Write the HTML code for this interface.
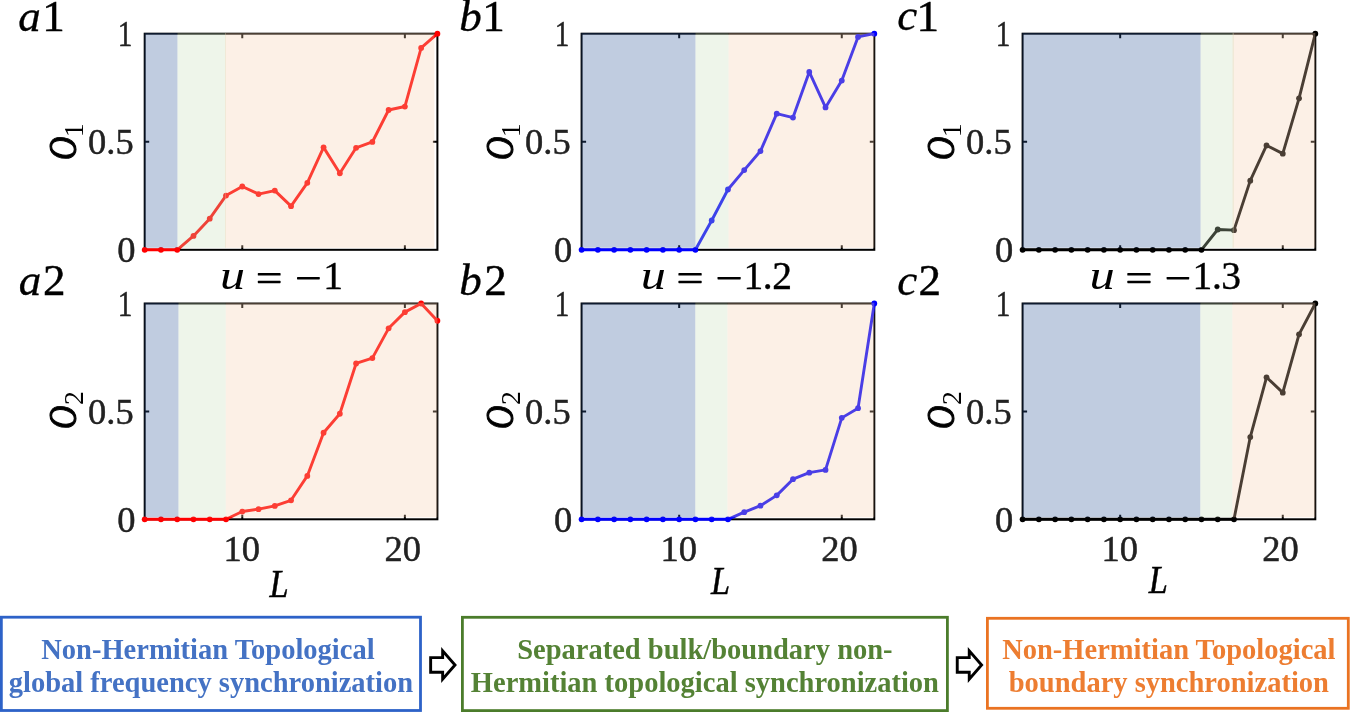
<!DOCTYPE html>
<html><head><meta charset="utf-8"><style>
html,body{margin:0;padding:0;background:#fff;}
body{width:1351px;height:712px;overflow:hidden;font-family:"Liberation Serif",serif;}
svg{display:block;will-change:transform;}
</style></head><body>
<svg width="1351" height="712" viewBox="0 0 1351 712" font-family="Liberation Serif">
<rect width="1351" height="712" fill="#fff"/>
<rect x="144.70" y="33.70" width="292.70" height="216.10" fill="none" stroke="#000" stroke-width="2"/>
<path d="M242.27 249.80V245.30M242.27 33.70V38.20M404.88 249.80V245.30M404.88 33.70V38.20M144.70 141.75H149.20M437.40 141.75H432.90" stroke="#000" stroke-width="2" fill="none"/>
<path d="M144.70 249.80 L160.96 249.80 L177.22 249.80 L193.48 235.97 L209.74 218.68 L226.01 195.56 L242.27 186.48 L258.53 194.05 L274.79 190.59 L291.05 206.15 L307.31 182.81 L323.57 147.37 L339.83 173.30 L356.09 147.80 L372.36 141.97 L388.62 109.98 L404.88 106.53 L421.14 47.96 L437.40 33.70" stroke="#ff0000" stroke-width="2.9" fill="none" stroke-linejoin="round"/>
<g fill="#ff0000"><circle cx="144.70" cy="249.80" r="2.9"/><circle cx="160.96" cy="249.80" r="2.9"/><circle cx="177.22" cy="249.80" r="2.9"/><circle cx="193.48" cy="235.97" r="2.9"/><circle cx="209.74" cy="218.68" r="2.9"/><circle cx="226.01" cy="195.56" r="2.9"/><circle cx="242.27" cy="186.48" r="2.9"/><circle cx="258.53" cy="194.05" r="2.9"/><circle cx="274.79" cy="190.59" r="2.9"/><circle cx="291.05" cy="206.15" r="2.9"/><circle cx="307.31" cy="182.81" r="2.9"/><circle cx="323.57" cy="147.37" r="2.9"/><circle cx="339.83" cy="173.30" r="2.9"/><circle cx="356.09" cy="147.80" r="2.9"/><circle cx="372.36" cy="141.97" r="2.9"/><circle cx="388.62" cy="109.98" r="2.9"/><circle cx="404.88" cy="106.53" r="2.9"/><circle cx="421.14" cy="47.96" r="2.9"/><circle cx="437.40" cy="33.70" r="2.9"/></g>
<rect x="144.40" y="32.90" width="33.10" height="214.90" fill="rgba(48,85,152,0.3)"/>
<rect x="177.50" y="32.90" width="48.50" height="214.90" fill="rgba(198,222,185,0.3)"/>
<rect x="225.00" y="32.90" width="209.40" height="214.90" fill="rgba(245,205,172,0.3)"/>
<rect x="144.70" y="303.50" width="292.70" height="215.80" fill="none" stroke="#000" stroke-width="2"/>
<path d="M242.27 519.30V514.80M242.27 303.50V308.00M404.88 519.30V514.80M404.88 303.50V308.00M144.70 411.40H149.20M437.40 411.40H432.90" stroke="#000" stroke-width="2" fill="none"/>
<path d="M144.70 519.30 L160.96 519.30 L177.22 519.30 L193.48 519.30 L209.74 519.30 L226.01 519.30 L242.27 511.53 L258.53 509.16 L274.79 505.92 L291.05 500.31 L307.31 475.92 L323.57 432.76 L339.83 413.77 L356.09 363.49 L372.36 358.10 L388.62 328.32 L404.88 312.13 L421.14 303.50 L437.40 320.76" stroke="#ff0000" stroke-width="2.9" fill="none" stroke-linejoin="round"/>
<g fill="#ff0000"><circle cx="144.70" cy="519.30" r="2.9"/><circle cx="160.96" cy="519.30" r="2.9"/><circle cx="177.22" cy="519.30" r="2.9"/><circle cx="193.48" cy="519.30" r="2.9"/><circle cx="209.74" cy="519.30" r="2.9"/><circle cx="226.01" cy="519.30" r="2.9"/><circle cx="242.27" cy="511.53" r="2.9"/><circle cx="258.53" cy="509.16" r="2.9"/><circle cx="274.79" cy="505.92" r="2.9"/><circle cx="291.05" cy="500.31" r="2.9"/><circle cx="307.31" cy="475.92" r="2.9"/><circle cx="323.57" cy="432.76" r="2.9"/><circle cx="339.83" cy="413.77" r="2.9"/><circle cx="356.09" cy="363.49" r="2.9"/><circle cx="372.36" cy="358.10" r="2.9"/><circle cx="388.62" cy="328.32" r="2.9"/><circle cx="404.88" cy="312.13" r="2.9"/><circle cx="421.14" cy="303.50" r="2.9"/><circle cx="437.40" cy="320.76" r="2.9"/></g>
<rect x="144.40" y="302.70" width="34.10" height="214.60" fill="rgba(48,85,152,0.3)"/>
<rect x="178.50" y="302.70" width="47.30" height="214.60" fill="rgba(198,222,185,0.3)"/>
<rect x="225.80" y="302.70" width="211.60" height="214.60" fill="rgba(245,205,172,0.3)"/>
<rect x="581.60" y="33.70" width="292.70" height="216.10" fill="none" stroke="#000" stroke-width="2"/>
<path d="M679.17 249.80V245.30M679.17 33.70V38.20M841.78 249.80V245.30M841.78 33.70V38.20M581.60 141.75H586.10M874.30 141.75H869.80" stroke="#000" stroke-width="2" fill="none"/>
<path d="M581.60 249.80 L597.86 249.80 L614.12 249.80 L630.38 249.80 L646.64 249.80 L662.91 249.80 L679.17 249.80 L695.43 249.80 L711.69 220.52 L727.95 189.51 L744.21 170.06 L760.47 151.04 L776.73 113.66 L792.99 117.55 L809.26 71.95 L825.52 107.39 L841.78 80.59 L858.04 36.94 L874.30 33.70" stroke="#0000ff" stroke-width="2.9" fill="none" stroke-linejoin="round"/>
<g fill="#0000ff"><circle cx="581.60" cy="249.80" r="2.9"/><circle cx="597.86" cy="249.80" r="2.9"/><circle cx="614.12" cy="249.80" r="2.9"/><circle cx="630.38" cy="249.80" r="2.9"/><circle cx="646.64" cy="249.80" r="2.9"/><circle cx="662.91" cy="249.80" r="2.9"/><circle cx="679.17" cy="249.80" r="2.9"/><circle cx="695.43" cy="249.80" r="2.9"/><circle cx="711.69" cy="220.52" r="2.9"/><circle cx="727.95" cy="189.51" r="2.9"/><circle cx="744.21" cy="170.06" r="2.9"/><circle cx="760.47" cy="151.04" r="2.9"/><circle cx="776.73" cy="113.66" r="2.9"/><circle cx="792.99" cy="117.55" r="2.9"/><circle cx="809.26" cy="71.95" r="2.9"/><circle cx="825.52" cy="107.39" r="2.9"/><circle cx="841.78" cy="80.59" r="2.9"/><circle cx="858.04" cy="36.94" r="2.9"/><circle cx="874.30" cy="33.70" r="2.9"/></g>
<rect x="581.30" y="32.90" width="114.20" height="214.90" fill="rgba(48,85,152,0.3)"/>
<rect x="695.50" y="32.90" width="33.10" height="214.90" fill="rgba(198,222,185,0.3)"/>
<rect x="728.60" y="32.90" width="145.70" height="214.90" fill="rgba(245,205,172,0.3)"/>
<rect x="581.60" y="303.50" width="292.70" height="215.80" fill="none" stroke="#000" stroke-width="2"/>
<path d="M679.17 519.30V514.80M679.17 303.50V308.00M841.78 519.30V514.80M841.78 303.50V308.00M581.60 411.40H586.10M874.30 411.40H869.80" stroke="#000" stroke-width="2" fill="none"/>
<path d="M581.60 519.30 L597.86 519.30 L614.12 519.30 L630.38 519.30 L646.64 519.30 L662.91 519.30 L679.17 519.30 L695.43 519.30 L711.69 519.30 L727.95 519.30 L744.21 512.18 L760.47 505.70 L776.73 495.35 L792.99 479.16 L809.26 472.69 L825.52 469.88 L841.78 417.87 L858.04 408.16 L874.30 303.50" stroke="#0000ff" stroke-width="2.9" fill="none" stroke-linejoin="round"/>
<g fill="#0000ff"><circle cx="581.60" cy="519.30" r="2.9"/><circle cx="597.86" cy="519.30" r="2.9"/><circle cx="614.12" cy="519.30" r="2.9"/><circle cx="630.38" cy="519.30" r="2.9"/><circle cx="646.64" cy="519.30" r="2.9"/><circle cx="662.91" cy="519.30" r="2.9"/><circle cx="679.17" cy="519.30" r="2.9"/><circle cx="695.43" cy="519.30" r="2.9"/><circle cx="711.69" cy="519.30" r="2.9"/><circle cx="727.95" cy="519.30" r="2.9"/><circle cx="744.21" cy="512.18" r="2.9"/><circle cx="760.47" cy="505.70" r="2.9"/><circle cx="776.73" cy="495.35" r="2.9"/><circle cx="792.99" cy="479.16" r="2.9"/><circle cx="809.26" cy="472.69" r="2.9"/><circle cx="825.52" cy="469.88" r="2.9"/><circle cx="841.78" cy="417.87" r="2.9"/><circle cx="858.04" cy="408.16" r="2.9"/><circle cx="874.30" cy="303.50" r="2.9"/></g>
<rect x="581.30" y="302.70" width="114.00" height="214.60" fill="rgba(48,85,152,0.3)"/>
<rect x="695.30" y="302.70" width="32.20" height="214.60" fill="rgba(198,222,185,0.3)"/>
<rect x="727.50" y="302.70" width="146.80" height="214.60" fill="rgba(245,205,172,0.3)"/>
<rect x="1022.60" y="33.70" width="292.70" height="216.10" fill="none" stroke="#000" stroke-width="2"/>
<path d="M1120.17 249.80V245.30M1120.17 33.70V38.20M1282.78 249.80V245.30M1282.78 33.70V38.20M1022.60 141.75H1027.10M1315.30 141.75H1310.80" stroke="#000" stroke-width="2" fill="none"/>
<path d="M1022.60 249.80 L1038.86 249.80 L1055.12 249.80 L1071.38 249.80 L1087.64 249.80 L1103.91 249.80 L1120.17 249.80 L1136.43 249.80 L1152.69 249.80 L1168.95 249.80 L1185.21 249.80 L1201.47 249.80 L1217.73 229.49 L1233.99 230.13 L1250.26 180.65 L1266.52 145.42 L1282.78 153.64 L1299.04 98.31 L1315.30 33.70" stroke="#000000" stroke-width="2.9" fill="none" stroke-linejoin="round"/>
<g fill="#000000"><circle cx="1022.60" cy="249.80" r="2.9"/><circle cx="1038.86" cy="249.80" r="2.9"/><circle cx="1055.12" cy="249.80" r="2.9"/><circle cx="1071.38" cy="249.80" r="2.9"/><circle cx="1087.64" cy="249.80" r="2.9"/><circle cx="1103.91" cy="249.80" r="2.9"/><circle cx="1120.17" cy="249.80" r="2.9"/><circle cx="1136.43" cy="249.80" r="2.9"/><circle cx="1152.69" cy="249.80" r="2.9"/><circle cx="1168.95" cy="249.80" r="2.9"/><circle cx="1185.21" cy="249.80" r="2.9"/><circle cx="1201.47" cy="249.80" r="2.9"/><circle cx="1217.73" cy="229.49" r="2.9"/><circle cx="1233.99" cy="230.13" r="2.9"/><circle cx="1250.26" cy="180.65" r="2.9"/><circle cx="1266.52" cy="145.42" r="2.9"/><circle cx="1282.78" cy="153.64" r="2.9"/><circle cx="1299.04" cy="98.31" r="2.9"/><circle cx="1315.30" cy="33.70" r="2.9"/></g>
<rect x="1022.30" y="32.90" width="178.30" height="214.90" fill="rgba(48,85,152,0.3)"/>
<rect x="1200.60" y="32.90" width="33.40" height="214.90" fill="rgba(198,222,185,0.3)"/>
<rect x="1232.50" y="32.90" width="82.80" height="214.90" fill="rgba(245,205,172,0.3)"/>
<rect x="1022.60" y="303.50" width="292.70" height="215.80" fill="none" stroke="#000" stroke-width="2"/>
<path d="M1120.17 519.30V514.80M1120.17 303.50V308.00M1282.78 519.30V514.80M1282.78 303.50V308.00M1022.60 411.40H1027.10M1315.30 411.40H1310.80" stroke="#000" stroke-width="2" fill="none"/>
<path d="M1022.60 519.30 L1038.86 519.30 L1055.12 519.30 L1071.38 519.30 L1087.64 519.30 L1103.91 519.30 L1120.17 519.30 L1136.43 519.30 L1152.69 519.30 L1168.95 519.30 L1185.21 519.30 L1201.47 519.30 L1217.73 519.30 L1233.99 519.30 L1250.26 437.08 L1266.52 377.30 L1282.78 392.63 L1299.04 334.36 L1315.30 303.50" stroke="#000000" stroke-width="2.9" fill="none" stroke-linejoin="round"/>
<g fill="#000000"><circle cx="1022.60" cy="519.30" r="2.9"/><circle cx="1038.86" cy="519.30" r="2.9"/><circle cx="1055.12" cy="519.30" r="2.9"/><circle cx="1071.38" cy="519.30" r="2.9"/><circle cx="1087.64" cy="519.30" r="2.9"/><circle cx="1103.91" cy="519.30" r="2.9"/><circle cx="1120.17" cy="519.30" r="2.9"/><circle cx="1136.43" cy="519.30" r="2.9"/><circle cx="1152.69" cy="519.30" r="2.9"/><circle cx="1168.95" cy="519.30" r="2.9"/><circle cx="1185.21" cy="519.30" r="2.9"/><circle cx="1201.47" cy="519.30" r="2.9"/><circle cx="1217.73" cy="519.30" r="2.9"/><circle cx="1233.99" cy="519.30" r="2.9"/><circle cx="1250.26" cy="437.08" r="2.9"/><circle cx="1266.52" cy="377.30" r="2.9"/><circle cx="1282.78" cy="392.63" r="2.9"/><circle cx="1299.04" cy="334.36" r="2.9"/><circle cx="1315.30" cy="303.50" r="2.9"/></g>
<rect x="1022.30" y="302.70" width="178.00" height="214.60" fill="rgba(48,85,152,0.3)"/>
<rect x="1200.30" y="302.70" width="32.10" height="214.60" fill="rgba(198,222,185,0.3)"/>
<rect x="1232.40" y="302.70" width="82.90" height="214.60" fill="rgba(245,205,172,0.3)"/>
<text transform="translate(117.75 46.30) scale(0.8 1)" font-size="36.5" fill="#222" stroke="#222" stroke-width="0.45">1</text>
<text x="88.10" y="153.99" font-size="36.5" fill="#222" stroke="#222" stroke-width="0.45">0.5</text>
<text x="117.14" y="261.74" font-size="36.5" fill="#222" stroke="#222" stroke-width="0.45">0</text>
<text transform="translate(117.75 316.10) scale(0.8 1)" font-size="36.5" fill="#222" stroke="#222" stroke-width="0.45">1</text>
<text x="88.10" y="423.79" font-size="36.5" fill="#222" stroke="#222" stroke-width="0.45">0.5</text>
<text x="117.14" y="531.54" font-size="36.5" fill="#222" stroke="#222" stroke-width="0.45">0</text>
<text transform="translate(554.65 46.30) scale(0.8 1)" font-size="36.5" fill="#222" stroke="#222" stroke-width="0.45">1</text>
<text x="525.00" y="153.99" font-size="36.5" fill="#222" stroke="#222" stroke-width="0.45">0.5</text>
<text x="554.04" y="261.74" font-size="36.5" fill="#222" stroke="#222" stroke-width="0.45">0</text>
<text transform="translate(554.65 316.10) scale(0.8 1)" font-size="36.5" fill="#222" stroke="#222" stroke-width="0.45">1</text>
<text x="525.00" y="423.79" font-size="36.5" fill="#222" stroke="#222" stroke-width="0.45">0.5</text>
<text x="554.04" y="531.54" font-size="36.5" fill="#222" stroke="#222" stroke-width="0.45">0</text>
<text transform="translate(995.65 46.30) scale(0.8 1)" font-size="36.5" fill="#222" stroke="#222" stroke-width="0.45">1</text>
<text x="966.00" y="153.99" font-size="36.5" fill="#222" stroke="#222" stroke-width="0.45">0.5</text>
<text x="995.04" y="261.74" font-size="36.5" fill="#222" stroke="#222" stroke-width="0.45">0</text>
<text transform="translate(995.65 316.10) scale(0.8 1)" font-size="36.5" fill="#222" stroke="#222" stroke-width="0.45">1</text>
<text x="966.00" y="423.79" font-size="36.5" fill="#222" stroke="#222" stroke-width="0.45">0.5</text>
<text x="995.04" y="531.54" font-size="36.5" fill="#222" stroke="#222" stroke-width="0.45">0</text>
<text x="223.59" y="560.93" font-size="36.5" fill="#222" stroke="#222" stroke-width="0.45">10</text>
<text x="384.39" y="560.93" font-size="36.5" fill="#222" stroke="#222" stroke-width="0.45">20</text>
<text x="660.49" y="560.93" font-size="36.5" fill="#222" stroke="#222" stroke-width="0.45">10</text>
<text x="821.29" y="560.93" font-size="36.5" fill="#222" stroke="#222" stroke-width="0.45">20</text>
<text x="1101.49" y="560.93" font-size="36.5" fill="#222" stroke="#222" stroke-width="0.45">10</text>
<text x="1262.29" y="560.93" font-size="36.5" fill="#222" stroke="#222" stroke-width="0.45">20</text>
<text transform="translate(269.61 597.00) scale(0.88 1)" font-size="39" font-style="italic" fill="#000" stroke="#000" stroke-width="0.5">L</text>
<text transform="translate(711.11 593.80) scale(0.88 1)" font-size="39" font-style="italic" fill="#000" stroke="#000" stroke-width="0.5">L</text>
<text transform="translate(1148.81 593.40) scale(0.88 1)" font-size="39" font-style="italic" fill="#000" stroke="#000" stroke-width="0.5">L</text>
<text x="18.35" y="30.55" font-size="45" font-style="italic" fill="#000" stroke="#000" stroke-width="0.35">a</text>
<text x="42.34" y="31.00" font-size="45" fill="#000" stroke="#000" stroke-width="0.5">1</text>
<text x="459.23" y="30.65" font-size="45" font-style="italic" fill="#000" stroke="#000" stroke-width="0.35">b</text>
<text x="482.34" y="31.10" font-size="45" fill="#000" stroke="#000" stroke-width="0.5">1</text>
<text x="897.31" y="30.45" font-size="45" font-style="italic" fill="#000" stroke="#000" stroke-width="0.35">c</text>
<text x="916.54" y="30.90" font-size="45" fill="#000" stroke="#000" stroke-width="0.5">1</text>
<text x="18.85" y="294.55" font-size="45" font-style="italic" fill="#000" stroke="#000" stroke-width="0.35">a</text>
<text x="42.92" y="295.00" font-size="45" fill="#000" stroke="#000" stroke-width="0.5">2</text>
<text x="459.23" y="294.55" font-size="45" font-style="italic" fill="#000" stroke="#000" stroke-width="0.35">b</text>
<text x="484.32" y="295.00" font-size="45" fill="#000" stroke="#000" stroke-width="0.5">2</text>
<text x="897.31" y="294.55" font-size="45" font-style="italic" fill="#000" stroke="#000" stroke-width="0.35">c</text>
<text x="918.52" y="295.00" font-size="45" fill="#000" stroke="#000" stroke-width="0.5">2</text>
<text transform="translate(220.00 289.3) scale(1.250 1)" font-size="40.0" font-style="italic">u</text>
<rect x="257.80" y="273.1" width="22.80" height="2.4" rx="0.6" fill="#000"/>
<rect x="257.80" y="280.8" width="22.80" height="2.4" rx="0.6" fill="#000"/>
<rect x="297.00" y="277.0" width="22.80" height="2.4" rx="0.6" fill="#000"/>
<text x="323.32" y="289.2" font-size="39.5" stroke="#000" stroke-width="0.4">1</text>
<text transform="translate(640.69 289.3) scale(1.256 1)" font-size="40.0" font-style="italic">u</text>
<rect x="678.40" y="273.1" width="23.30" height="2.4" rx="0.6" fill="#000"/>
<rect x="678.40" y="280.8" width="23.30" height="2.4" rx="0.6" fill="#000"/>
<rect x="717.50" y="277.0" width="23.20" height="2.4" rx="0.6" fill="#000"/>
<text x="743.52" y="289.2" font-size="39.5" stroke="#000" stroke-width="0.4">1</text>
<text x="762.69" y="289.2" font-size="39.5" stroke="#000" stroke-width="0.4">.</text>
<text x="772.26" y="289.2" font-size="39.5" stroke="#000" stroke-width="0.4">2</text>
<text transform="translate(1089.48 289.3) scale(1.262 1)" font-size="40.0" font-style="italic">u</text>
<rect x="1127.30" y="273.1" width="23.30" height="2.4" rx="0.6" fill="#000"/>
<rect x="1127.30" y="280.8" width="23.30" height="2.4" rx="0.6" fill="#000"/>
<rect x="1166.60" y="277.0" width="22.60" height="2.4" rx="0.6" fill="#000"/>
<text x="1192.42" y="289.2" font-size="39.5" stroke="#000" stroke-width="0.4">1</text>
<text x="1211.89" y="289.2" font-size="39.5" stroke="#000" stroke-width="0.4">.</text>
<text x="1221.30" y="289.2" font-size="39.5" stroke="#000" stroke-width="0.4">3</text>
<text transform="translate(76.30 159.92) rotate(-90) scale(0.8 1)" font-size="40.5" font-style="italic" stroke="#000" stroke-width="1.1">O</text>
<text transform="translate(83.00 137.34) rotate(-90)" font-size="27.7">1</text>
<text transform="translate(76.30 428.92) rotate(-90) scale(0.8 1)" font-size="40.5" font-style="italic" stroke="#000" stroke-width="1.1">O</text>
<text transform="translate(83.00 405.12) rotate(-90)" font-size="27.7">2</text>
<text transform="translate(513.20 159.92) rotate(-90) scale(0.8 1)" font-size="40.5" font-style="italic" stroke="#000" stroke-width="1.1">O</text>
<text transform="translate(519.90 137.34) rotate(-90)" font-size="27.7">1</text>
<text transform="translate(513.20 428.92) rotate(-90) scale(0.8 1)" font-size="40.5" font-style="italic" stroke="#000" stroke-width="1.1">O</text>
<text transform="translate(519.90 405.12) rotate(-90)" font-size="27.7">2</text>
<text transform="translate(954.20 159.92) rotate(-90) scale(0.8 1)" font-size="40.5" font-style="italic" stroke="#000" stroke-width="1.1">O</text>
<text transform="translate(960.90 137.34) rotate(-90)" font-size="27.7">1</text>
<text transform="translate(954.20 428.92) rotate(-90) scale(0.8 1)" font-size="40.5" font-style="italic" stroke="#000" stroke-width="1.1">O</text>
<text transform="translate(960.90 405.12) rotate(-90)" font-size="27.7">2</text>
<rect x="1.35" y="617.2" width="419.15" height="93.30" fill="none" stroke="#2d62c8" stroke-width="2.8"/>
<text x="207.93" y="658.80" font-size="28.5" font-weight="bold" fill="#4472c4" text-anchor="middle">Non-Hermitian Topological</text>
<text x="210.93" y="692.30" font-size="28.5" font-weight="bold" fill="#4472c4" text-anchor="middle">global frequency synchronization</text>
<rect x="462.4" y="617.3" width="485.00" height="93.30" fill="none" stroke="#4b7c2b" stroke-width="2.8"/>
<text x="704.90" y="658.80" font-size="28.5" font-weight="bold" fill="#548235" text-anchor="middle">Separated bulk/boundary non-</text>
<text x="704.90" y="692.30" font-size="28.5" font-weight="bold" fill="#548235" text-anchor="middle">Hermitian topological synchronization</text>
<rect x="987.4" y="618.3" width="360.90" height="90.00" fill="none" stroke="#ea7322" stroke-width="2.8"/>
<text x="1168.85" y="658.80" font-size="28.5" font-weight="bold" fill="#ed7d31" text-anchor="middle">Non-Hermitian Topological</text>
<text x="1168.85" y="692.30" font-size="28.5" font-weight="bold" fill="#ed7d31" text-anchor="middle">boundary synchronization</text>
<path d="M430.65 657.65H442.65V650.9L455.00 665L442.65 679.1V672.25H430.65Z" fill="#fff" stroke="#000" stroke-width="2.9" stroke-linejoin="miter" stroke-miterlimit="10"/>
<path d="M957.25 657.65H969.25V650.9L981.60 665L969.25 679.1V672.25H957.25Z" fill="#fff" stroke="#000" stroke-width="2.9" stroke-linejoin="miter" stroke-miterlimit="10"/>
</svg>
</body></html>
